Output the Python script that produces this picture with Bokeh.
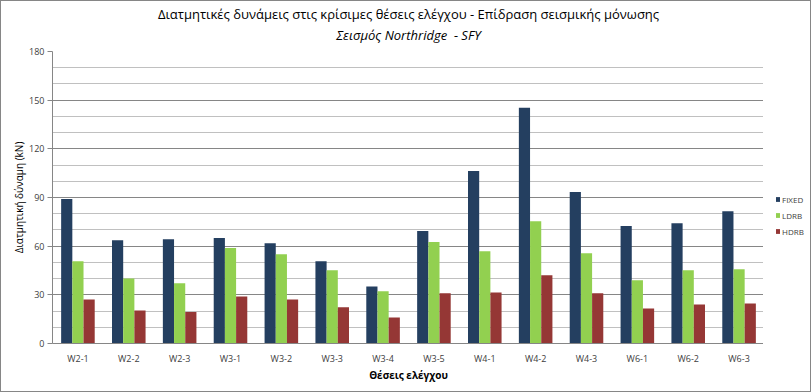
from bokeh.plotting import figure
from bokeh.layouts import row
from bokeh.models import (FactorRange, Range1d, SingleIntervalTicker, Legend,
                          LegendItem, Title, ColumnDataSource)
from bokeh.transform import dodge
from bokeh.embed import file_html
from bokeh.resources import INLINE

positions = ["W2-1", "W2-2", "W2-3", "W3-1", "W3-2", "W3-3", "W3-4", "W3-5",
             "W4-1", "W4-2", "W4-3", "W6-1", "W6-2", "W6-3"]
fixed = [89.0, 63.7, 64.3, 65.0, 61.8, 50.7, 35.2, 69.3, 106.4, 145.3, 93.4, 72.4, 74.2, 81.6]
ldrb = [50.7, 40.0, 37.1, 58.8, 55.0, 45.1, 32.2, 62.5, 56.9, 75.4, 55.7, 39.0, 45.1, 45.8]
hdrb = [27.2, 20.4, 19.4, 29.0, 27.2, 22.3, 16.1, 30.9, 31.5, 42.0, 30.9, 21.6, 24.1, 24.7]
series_names = ["FIXED", "LDRB", "HDRB"]
y_ticks_interval = 30

colors = ["#243F60", "#92D050", "#953735"]
FONT = "Open Sans"
BORDER = "1px solid #868686"

src = ColumnDataSource(dict(pos=positions, FIXED=fixed, LDRB=ldrb, HDRB=hdrb))

p = figure(width=763, height=392, x_range=FactorRange(factors=positions, range_padding=0),
           y_range=Range1d(0, 180), output_backend="svg", toolbar_location=None,
           min_border_left=51, min_border_right=0, min_border_bottom=50, min_border_top=5)

p.add_layout(Title(text=" ", text_font=FONT, text_font_size="5px", standoff=0), "above")
p.add_layout(Title(text="Σεισμός Northridge\u00a0 - SFY", align="center", text_font=FONT,
                   text_font_size="13px", text_font_style="italic", text_color="#000000",
                   standoff=0), "above")
p.add_layout(Title(text="Διατμητικές δυνάμεις στις κρίσιμες θέσεις ελέγχου - Επίδραση σεισμικής μόνωσης",
                   align="center", text_font=FONT, text_font_size="13px",
                   text_font_style="normal", text_color="#000000", standoff=2), "above")

offsets = [-0.22, 0.0, 0.22]
for name, col, off in zip(series_names, colors, offsets):
    p.vbar(x=dodge("pos", off, range=p.x_range), top=name, width=0.22, source=src,
           fill_color=col, line_color=None)

p.outline_line_color = None
p.background_fill_color = "#FFFFFF"

p.yaxis.ticker = SingleIntervalTicker(interval=y_ticks_interval, num_minor_ticks=3)
p.yaxis.axis_line_color = "#868686"
p.yaxis.major_tick_line_color = "#868686"
p.yaxis.major_tick_out = 5
p.yaxis.major_tick_in = 0
p.yaxis.minor_tick_line_color = None
p.yaxis.major_label_text_font = FONT
p.yaxis.major_label_text_font_size = "9px"
p.yaxis.major_label_text_color = "#404040"
p.yaxis.major_label_standoff = 3
p.yaxis.axis_label = "Διατμητική δύναμη (kN)"
p.yaxis.axis_label_text_font = FONT
p.yaxis.axis_label_text_font_size = "10px"
p.yaxis.axis_label_text_font_style = "normal"
p.yaxis.axis_label_text_color = "#000000"
p.yaxis.axis_label_standoff = 0

p.xaxis.axis_line_color = "#868686"
p.xaxis.major_tick_line_color = None
p.xaxis.minor_tick_line_color = None
p.xaxis.major_label_text_font = FONT
p.xaxis.major_label_text_font_size = "9px"
p.xaxis.major_label_text_color = "#404040"
p.xaxis.major_label_standoff = 2
p.xaxis.axis_label = "Θέσεις ελέγχου"
p.xaxis.axis_label_text_font = FONT
p.xaxis.axis_label_text_font_size = "10px"
p.xaxis.axis_label_text_font_style = "bold"
p.xaxis.axis_label_text_color = "#000000"
p.xaxis.axis_label_standoff = 0

p.xgrid.grid_line_color = None
p.ygrid.grid_line_color = "#868686"
p.ygrid.minor_grid_line_color = "#C0C0C0"
p.styles = {"border-left": BORDER, "border-top": BORDER, "border-bottom": BORDER,
            "box-sizing": "border-box"}

# legend panel
q = figure(width=48, height=392, output_backend="svg", toolbar_location=None,
           x_range=Range1d(0, 1), y_range=Range1d(0, 1),
           x_axis_type=None, y_axis_type=None, min_border_left=0, min_border_right=0,
           min_border_top=0, min_border_bottom=0)
q.outline_line_color = None
q.xgrid.grid_line_color = None
q.ygrid.grid_line_color = None
dummies = [q.vbar(x=[-10], top=[0], width=0.1, fill_color=c, line_color=None) for c in colors]
legend = Legend(items=[LegendItem(label=n, renderers=[r]) for n, r in zip(series_names, dummies)],
                location=(12, 106), glyph_width=5, glyph_height=6, label_text_font=FONT,
                label_text_font_size="8px", label_text_color="#404040", spacing=4,
                label_height=12, label_standoff=2, padding=0, margin=0,
                border_line_color=None, background_fill_alpha=0)
q.add_layout(legend, "center")
q.styles = {"border-right": BORDER, "border-top": BORDER, "border-bottom": BORDER,
            "box-sizing": "border-box"}

layout = row(p, q, spacing=0)
open("out.html", "w").write(file_html(layout, INLINE))
